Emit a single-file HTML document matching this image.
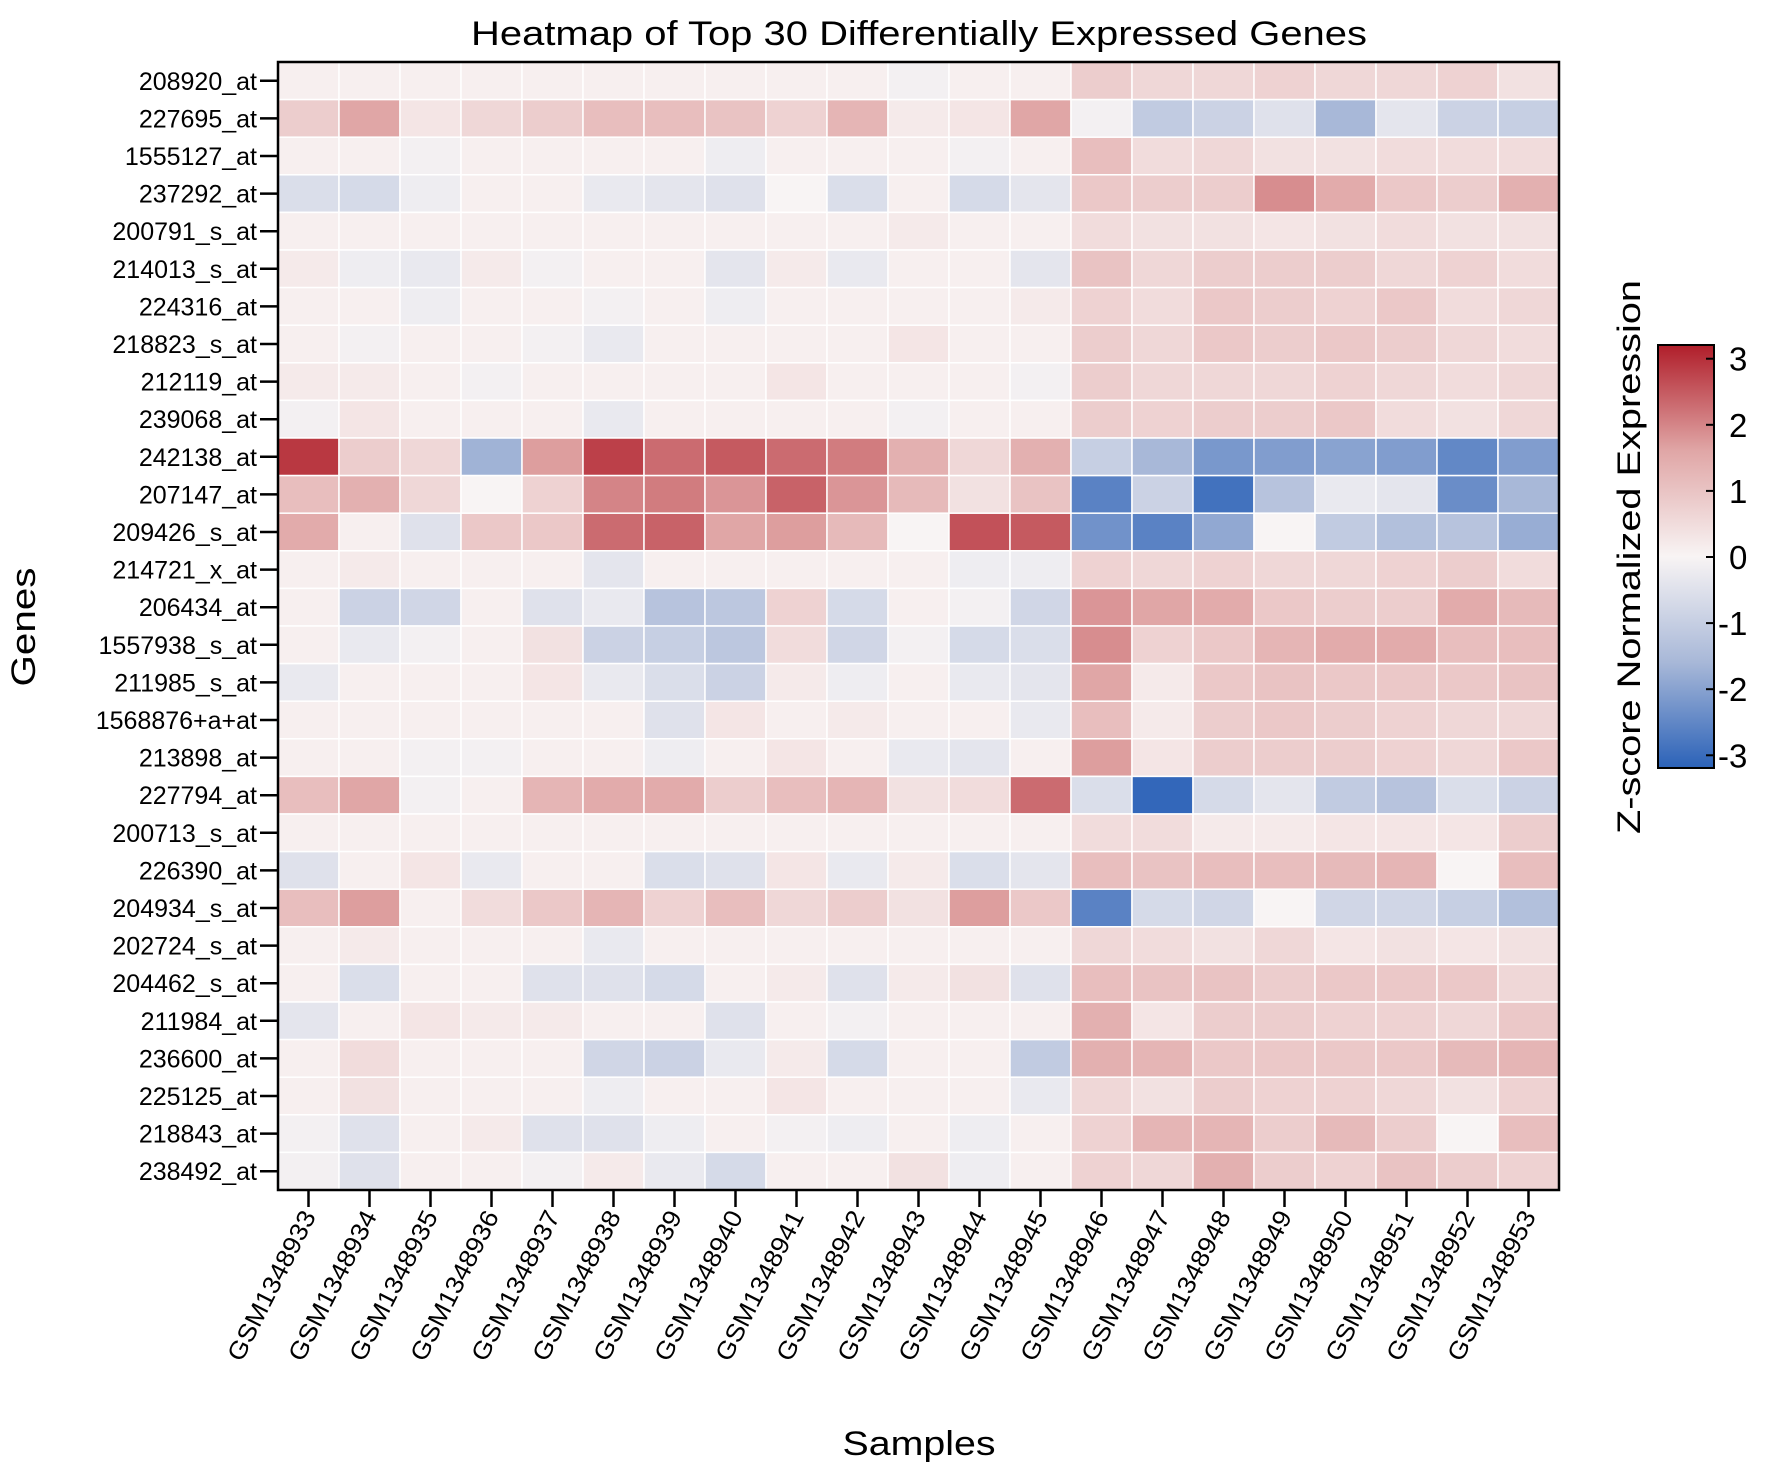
<!DOCTYPE html>
<html><head><meta charset="utf-8"><style>
html,body{margin:0;padding:0;background:#fff;}
svg{display:block;font-family:"Liberation Sans",sans-serif;}
</style></head><body>
<svg id="chart" width="1772" height="1477" viewBox="0 0 1772 1477" xmlns="http://www.w3.org/2000/svg">
<defs>
<linearGradient id="cbgrad" x1="0" y1="1" x2="0" y2="0">
<stop offset="0" stop-color="#2b62b8"/><stop offset="0.25" stop-color="#a8b8d8"/><stop offset="0.5" stop-color="#f8f4f4"/><stop offset="0.75" stop-color="#e0a6a6"/><stop offset="1" stop-color="#b01e2a"/>
</linearGradient>
</defs>
<text x="919" y="45" font-size="34" text-anchor="middle" textLength="896" lengthAdjust="spacingAndGlyphs">Heatmap of Top 30 Differentially Expressed Genes</text>
<g id="cells"></g>
<rect x="278" y="62" width="1281" height="1128" fill="none" stroke="#000" stroke-width="2.5"/>
<g id="yaxis"></g><g id="xaxis"></g>
<text transform="translate(35,627) rotate(-90)" font-size="34" text-anchor="middle" textLength="119" lengthAdjust="spacingAndGlyphs">Genes</text>
<text x="919" y="1455" font-size="34" text-anchor="middle" textLength="153" lengthAdjust="spacingAndGlyphs">Samples</text>
<text transform="translate(1640,557) rotate(-90)" font-size="32" text-anchor="middle" textLength="554" lengthAdjust="spacingAndGlyphs">Z-score Normalized Expression</text>
<rect x="1658" y="345" width="56" height="423" fill="url(#cbgrad)" stroke="#000" stroke-width="2"/>
<g id="cbticks"></g>
</svg>
<script>
const genes=["208920_at","227695_at","1555127_at","237292_at","200791_s_at","214013_s_at","224316_at","218823_s_at","212119_at","239068_at","242138_at","207147_at","209426_s_at","214721_x_at","206434_at","1557938_s_at","211985_s_at","1568876+a+at","213898_at","227794_at","200713_s_at","226390_at","204934_s_at","202724_s_at","204462_s_at","211984_at","236600_at","225125_at","218843_at","238492_at"];
const samples=["GSM1348933","GSM1348934","GSM1348935","GSM1348936","GSM1348937","GSM1348938","GSM1348939","GSM1348940","GSM1348941","GSM1348942","GSM1348943","GSM1348944","GSM1348945","GSM1348946","GSM1348947","GSM1348948","GSM1348949","GSM1348950","GSM1348951","GSM1348952","GSM1348953"];
const colorTicks=[3,2,1,0,-1,-2,-3];
const zValues=[
[0.1,0.1,0.1,0.1,0.1,0.1,0.1,0.1,0.1,0.1,-0.1,0.1,0.1,0.8,0.6,0.6,0.7,0.6,0.6,0.7,0.4],
[0.8,1.6,0.3,0.6,0.8,1.1,1.1,1.0,0.7,1.3,0.2,0.3,1.6,-0.1,-1.1,-0.9,-0.5,-1.6,-0.4,-0.9,-1.0],
[0.1,0.1,-0.1,0.1,0.1,0.1,0.1,-0.2,0.1,0.1,0.1,-0.1,0.1,1.1,0.5,0.6,0.4,0.4,0.5,0.5,0.5],
[-0.6,-0.7,-0.2,0.1,0.1,-0.3,-0.4,-0.5,0.0,-0.6,0.1,-0.7,-0.4,0.9,0.8,0.8,1.9,1.5,0.9,0.8,1.4],
[0.1,0.1,0.1,0.1,0.1,0.1,0.1,0.1,0.1,0.1,0.2,0.1,0.1,0.5,0.4,0.4,0.3,0.4,0.5,0.4,0.4],
[0.2,-0.2,-0.3,0.2,-0.1,0.1,0.1,-0.4,0.2,-0.3,0.1,0.1,-0.4,1.0,0.6,0.8,0.8,0.8,0.6,0.7,0.5],
[0.1,0.1,-0.2,0.1,0.1,-0.1,0.1,-0.2,0.1,0.1,0.1,0.1,0.2,0.7,0.5,0.9,0.8,0.7,0.9,0.5,0.6],
[0.1,-0.1,0.1,0.1,-0.1,-0.3,0.1,0.1,0.1,0.1,0.3,0.1,0.1,0.8,0.6,0.9,0.8,0.9,0.8,0.6,0.5],
[0.2,0.2,0.1,-0.1,0.1,0.1,0.1,0.1,0.3,0.1,0.1,0.1,-0.1,0.8,0.6,0.6,0.6,0.7,0.6,0.5,0.6],
[-0.1,0.3,0.1,0.1,0.1,-0.3,0.1,0.1,0.1,0.1,-0.1,0.1,0.1,0.8,0.7,0.8,0.8,0.9,0.5,0.4,0.6],
[2.9,0.8,0.6,-1.7,1.7,2.8,2.3,2.5,2.3,2.1,1.4,0.6,1.4,-1.0,-1.6,-2.2,-2.1,-2.0,-2.1,-2.5,-2.1],
[1.1,1.4,0.6,0.0,0.7,2.0,2.1,1.8,2.4,1.8,1.2,0.4,1.0,-2.6,-0.9,-2.9,-1.3,-0.3,-0.4,-2.4,-1.6],
[1.5,0.1,-0.5,0.9,0.9,2.3,2.4,1.6,1.7,1.2,0.0,2.6,2.5,-2.3,-2.6,-1.9,0.0,-1.1,-1.4,-1.3,-1.8],
[0.1,0.2,0.1,0.1,0.1,-0.4,0.1,0.1,0.1,0.1,0.1,-0.2,-0.2,0.7,0.6,0.7,0.6,0.6,0.7,0.8,0.5],
[0.1,-0.9,-0.8,0.1,-0.5,-0.3,-1.3,-1.2,0.7,-0.7,0.1,-0.1,-0.8,1.8,1.6,1.5,0.9,0.8,0.8,1.5,1.2],
[0.1,-0.3,-0.1,0.1,0.4,-0.9,-1.0,-1.2,0.5,-0.8,-0.1,-0.7,-0.6,1.9,0.7,0.9,1.3,1.5,1.5,1.1,1.1],
[-0.3,0.1,0.1,0.1,0.3,-0.3,-0.6,-0.9,0.2,-0.2,0.1,-0.3,-0.4,1.6,0.2,0.9,1.0,0.9,0.9,0.9,1.0],
[0.1,0.1,0.1,0.1,0.1,0.1,-0.5,0.3,0.1,0.2,0.1,0.1,-0.3,1.1,0.2,0.8,0.9,0.8,0.7,0.6,0.6],
[0.1,0.1,-0.1,-0.1,0.1,0.1,-0.2,0.1,0.3,0.1,-0.3,-0.4,0.1,1.7,0.3,0.8,0.8,0.8,0.7,0.6,0.9],
[1.1,1.6,-0.1,0.1,1.3,1.5,1.5,0.8,1.1,1.3,0.4,0.5,2.3,-0.6,-3.1,-0.7,-0.4,-1.1,-1.3,-0.6,-0.9],
[0.1,0.1,0.1,0.1,0.1,0.1,0.1,0.1,0.1,0.1,0.1,0.1,0.1,0.5,0.5,0.2,0.2,0.3,0.3,0.3,0.8],
[-0.5,0.1,0.3,-0.3,0.1,0.1,-0.6,-0.5,0.3,-0.3,0.2,-0.6,-0.4,1.1,1.0,1.1,1.1,1.2,1.3,0.0,1.1],
[1.1,1.7,0.1,0.5,0.9,1.3,0.7,1.1,0.6,0.8,0.4,1.7,0.9,-2.6,-0.7,-0.8,0.0,-0.8,-0.8,-1.0,-1.4],
[0.1,0.2,0.1,0.1,0.1,-0.3,0.1,0.1,0.1,0.1,0.1,0.1,0.1,0.6,0.5,0.4,0.6,0.3,0.4,0.3,0.4],
[0.1,-0.6,0.1,0.1,-0.5,-0.5,-0.7,0.1,0.2,-0.5,0.2,0.4,-0.5,1.1,1.0,1.0,0.8,0.9,0.9,0.9,0.6],
[-0.4,0.1,0.3,0.2,0.2,0.1,0.1,-0.5,0.1,-0.1,0.1,0.1,0.1,1.4,0.3,0.8,0.8,0.7,0.7,0.6,0.9],
[0.1,0.5,0.1,0.1,0.1,-0.8,-0.9,-0.3,0.2,-0.7,0.1,0.1,-1.1,1.4,1.3,0.9,0.9,0.9,0.9,1.2,1.3],
[0.1,0.4,0.1,0.1,0.1,-0.2,0.1,0.1,0.3,0.1,0.1,0.1,-0.3,0.6,0.4,0.8,0.7,0.7,0.6,0.4,0.7],
[-0.1,-0.5,0.1,0.2,-0.5,-0.5,-0.2,0.1,-0.1,-0.2,0.1,-0.2,0.1,0.7,1.3,1.3,0.8,1.2,0.8,0.0,1.1],
[-0.1,-0.5,0.1,0.1,-0.1,0.2,-0.3,-0.7,0.1,0.1,0.4,-0.2,0.1,0.7,0.6,1.4,0.8,0.7,1.0,0.8,0.7]
];
const NS="http://www.w3.org/2000/svg";
const PX0=278,PX1=1559,PY0=62,PY1=1190,VMAX=3.2;
const cw=(PX1-PX0)/samples.length, ch=(PY1-PY0)/genes.length;
function xPos(i){return PX0+i*cw;}
function yPos(j){return PY0+j*ch;}
function cbY(v){return 557-v*(423/2)/VMAX;}
const stops=[[-3.2,[43,98,184]],[-1.6,[168,184,216]],[0,[248,244,244]],[1.6,[224,166,166]],[3.2,[176,30,42]]];
function color(v){v=Math.max(-VMAX,Math.min(VMAX,v));
 for(let k=0;k<stops.length-1;k++){const a=stops[k],b=stops[k+1];
  if(v<=b[0]){const t=(v-a[0])/(b[0]-a[0]);const c=a[1].map((x,i)=>Math.round(x+(b[1][i]-x)*t));return `rgb(${c})`;}}
 return "rgb(176,30,42)";}
function mk(tag,attrs,parent){const e=document.createElementNS(NS,tag);for(const k in attrs)e.setAttribute(k,attrs[k]);parent.appendChild(e);return e;}
const cells=document.getElementById('cells');
zValues.forEach((row,j)=>row.forEach((v,i)=>{
 const r=mk('rect',{x:xPos(i),y:yPos(j),width:cw,height:ch,fill:color(v),stroke:'#ffffff','stroke-width':1.5},cells);
 
 
}));
const ya=document.getElementById('yaxis');
genes.forEach((g,j)=>{const y=yPos(j)+ch/2;
 const t=mk('line',{x1:260,x2:278,y1:y,y2:y,stroke:'#000','stroke-width':2.5},ya);
 
 
 const l=mk('text',{x:257,y:y+9,'font-size':25,'text-anchor':'end'},ya);l.textContent=g;
 
 
});
const xa=document.getElementById('xaxis');
samples.forEach((s,i)=>{const x=xPos(i)+cw/2;
 const t=mk('line',{x1:x,x2:x,y1:1190,y2:1207,stroke:'#000','stroke-width':2.5},xa);
 
 
 const l=mk('text',{transform:`translate(${x+8},${1216}) rotate(-63)`,'font-size':25,'text-anchor':'end',textLength:165,lengthAdjust:'spacingAndGlyphs'},xa);l.textContent=s;
 
 
});
const cb=document.getElementById('cbticks');
colorTicks.forEach(v=>{const y=cbY(v);
 const t=mk('line',{x1:1706,x2:1714,y1:y,y2:y,stroke:'#000','stroke-width':2},cb);
 
 
 const l=mk('text',{x:v<0?1718:1729,y:y+12,'font-size':33},cb);l.textContent=String(v);
 
 
});
</script>
</body></html>
